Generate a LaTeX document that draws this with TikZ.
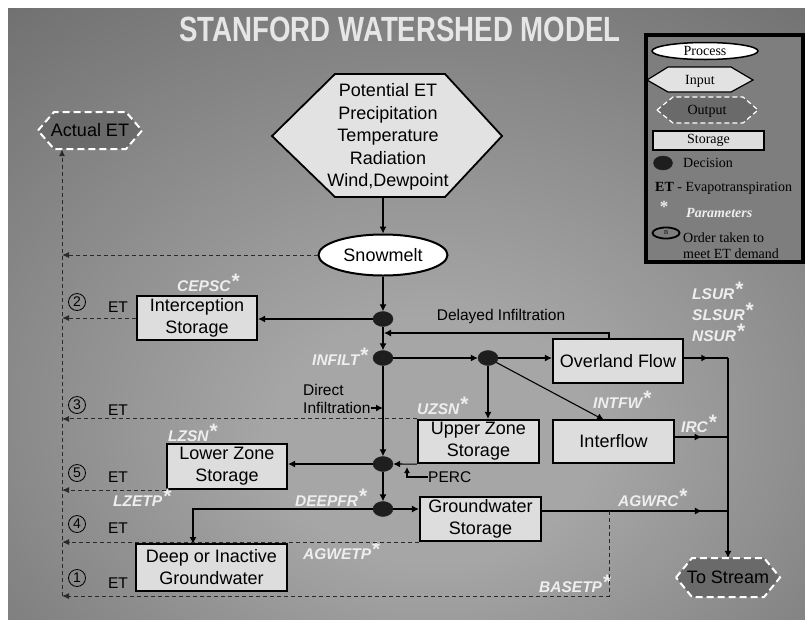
\documentclass[tikz,border=0pt]{standalone}
\usepackage{fontspec}
\setmainfont{Liberation Sans}
\newfontfamily\legfont{Liberation Serif}
\usetikzlibrary{arrows.meta,shapes.geometric,decorations.markings,calc}

\definecolor{bgdark}{RGB}{106,106,106}
\definecolor{bglight}{RGB}{166,166,166}
\definecolor{boxfill}{RGB}{221,221,221}
\definecolor{hexfill}{RGB}{226,226,226}
\definecolor{outfill}{RGB}{106,106,106}
\definecolor{decfill}{RGB}{30,30,30}
\definecolor{parcol}{RGB}{238,238,238}
\definecolor{dashcol}{RGB}{42,42,42}
\definecolor{titlecol}{RGB}{230,230,230}
\definecolor{legfill}{RGB}{126,126,126}

\pgfdeclareradialshading{bgshade}{\pgfpoint{2bp}{-12bp}}{color(0bp)=(bglight); color(10bp)=(bglight); color(44bp)=(bgdark); color(75bp)=(bgdark)}

% parameter name with its raised star
\newcommand{\prm}[1]{#1\hspace{1pt}\raisebox{3pt}{\fontsize{21}{21}\selectfont\upshape *}}

\tikzset{
  storebox/.style={draw=black, line width=2.2pt, fill=boxfill, inner sep=0pt, align=center,
    font=\fontsize{18}{22}\selectfont},
  decision/.style={ellipse, fill=decfill, draw=decfill, minimum width=20pt, minimum height=15pt, inner sep=0pt},
  flow/.style={draw=black, line width=1.1pt},
  arr/.style={flow, -{Latex[length=7pt,width=7pt]}},
  midarr/.style={flow, postaction={decorate}, decoration={markings,
    mark=at position #1 with {\arrow{Latex[length=7pt,width=7pt]}}}},
  etline/.style={draw=dashcol, line width=1pt, dash pattern=on 4pt off 3pt, -{Latex[length=7pt,width=6pt]}},
  param/.style={text=parcol, font=\fontsize{15.5}{17}\selectfont\bfseries\itshape, inner sep=0pt, anchor=base west},
  lbl/.style={font=\fontsize{15.5}{19}\selectfont, inner sep=0pt},
  circnum/.style={circle, draw=black, line width=0.8pt, minimum size=17pt, inner sep=0pt, font=\fontsize{14}{14}\selectfont},
  hexin/.style={fill=hexfill, draw=black, line width=1.8pt, line join=miter},
  hexout/.style={fill=outfill, draw=white, line width=2pt, dash pattern=on 7pt off 4pt},
  legtext/.style={font=\legfont\fontsize{14}{16}\selectfont, inner sep=0pt},
}

\begin{document}
\begin{tikzpicture}[x=1pt, y=-1pt]
\useasboundingbox (0,0) rectangle (805,619);
\fill[white] (0,0) rectangle (805,619);
\shade[shading=bgshade] (8,8) rectangle (805,619);

% title
\node[font=\fontsize{35}{35}\selectfont\bfseries, text=titlecol, inner sep=0pt] (title) at (400,29.5)
  {\scalebox{0.79}[1]{STANFORD WATERSHED MODEL}};

% ---------- legend ----------
\draw[line width=3.5pt, fill=legfill] (646,35) rectangle (803,262);
\node[ellipse, draw=black, line width=1.5pt, fill=white, minimum width=106pt, minimum height=17pt,
  inner sep=0pt, legtext] (lgproc) at (705,51) {Process};
\draw[hexin, line width=1.2pt] (647,80) -- (668,67) -- (731,67) -- (753,80) -- (731,92) -- (668,92) -- cycle;
\node[legtext] (lgin) at (700,81) {Input};
\draw[hexout, line width=1.2pt, dash pattern=on 5pt off 3pt] (657,110) -- (673,97) -- (743,97) -- (758,110) -- (743,123) -- (673,123) -- cycle;
\node[legtext] (lgout) at (707,111) {Output};
\node[draw=black, line width=2pt, fill=boxfill, minimum width=111pt, minimum height=19pt, inner sep=0pt,
  legtext] (lgstore) at (708.5,140.5) {Storage};
\node[decision, minimum width=19pt, minimum height=14pt] (lgdec) at (663,163) {};
\node[legtext, anchor=west] (lgdect) at (683,163) {Decision};
\node[legtext, anchor=west] (lget) at (655,188) {\textbf{ET} - Evapotranspiration};
\node[legtext, text=parcol, font=\legfont\fontsize{17}{17}\selectfont\bfseries] (lgstar) at (664,207) {*};
\node[legtext, anchor=west, text=parcol, font=\legfont\fontsize{14}{16}\selectfont\bfseries\itshape] (lgpar) at (686,213) {Parameters};
\node[ellipse, draw=black, line width=1.8pt, minimum width=27pt, minimum height=11pt, inner sep=0pt,
  font=\legfont\fontsize{8}{8}\selectfont] (lgord) at (666,233) {n};
\node[legtext, anchor=west, align=left] (lgordt) at (683,246) {Order taken to\\meet ET demand};

% ---------- input and process ----------
\draw[hexin] (272,136) -- (335,74) -- (445,74) -- (502,136) -- (445,197) -- (335,197) -- cycle;
\node[align=center, inner sep=0pt, font=\fontsize{18}{22.5}\selectfont] (inp) at (388,137)
  {Potential ET\\Precipitation\\Temperature\\Radiation\\Wind,Dewpoint};
\coordinate (inpbot) at (383,197);

\node[ellipse, draw=black, line width=2pt, fill=white, minimum width=129pt, minimum height=41pt,
  inner sep=0pt, font=\fontsize{18}{18}\selectfont] (snow) at (383,255) {Snowmelt};

% decisions
\node[decision] (d1) at (383,319) {};
\node[decision] (d2) at (383,358) {};
\node[decision] (d3) at (488,358) {};
\node[decision] (d4) at (383,464) {};
\node[decision] (d5) at (383,509) {};

% storages and flows
\node[storebox, minimum width=120pt, minimum height=44pt] (ics) at (197,318) {Interception\\Storage};
\node[storebox, minimum width=130pt, minimum height=44pt] (ovl) at (618,361) {Overland Flow};
\node[storebox, minimum width=121pt, minimum height=43pt] (itf) at (613.5,441.5) {Interflow};
\node[storebox, minimum width=121pt, minimum height=43pt] (uzs) at (478.5,441.5) {Upper Zone\\Storage};
\node[storebox, minimum width=120pt, minimum height=45pt] (lzs) at (227,466.5) {Lower Zone\\Storage};
\node[storebox, minimum width=121pt, minimum height=44pt] (gw) at (480.5,519) {Groundwater\\Storage};
\node[storebox, minimum width=151pt, minimum height=47pt] (deep) at (211.5,567.5) {Deep or Inactive\\Groundwater};

% outputs
\draw[hexout] (38,130.5) -- (54,112) -- (126,112) -- (142,130.5) -- (126,149) -- (54,149) -- cycle;
\node[inner sep=0pt, minimum height=37pt, font=\fontsize{18}{18}\selectfont] (aet) at (90,130.5) {Actual ET};
\draw[hexout] (676,577.5) -- (692,558) -- (764,558) -- (780,577.5) -- (764,597) -- (692,597) -- cycle;
\node[inner sep=0pt, minimum height=39pt, font=\fontsize{18}{18}\selectfont] (stream) at (728,577.5) {To Stream};

% ---------- text labels ----------
\node[lbl] (dly) at (501,316) {Delayed Infiltration};
\node[lbl, anchor=west] (dinf1) at (303,390) {Direct};
\node[lbl, anchor=west] (dinf) at (303,408) {Infiltration};
\node[lbl, anchor=west] (perc) at (428,477) {PERC};

\node[param] (pcepsc) at (177,291) {\prm{CEPSC}};
\node[param] (pinfilt) at (312,365) {\prm{INFILT}};
\node[param] (puzsn) at (417,414) {\prm{UZSN}};
\node[param] (plzsn) at (168,441) {\prm{LZSN}};
\node[param] (plzetp) at (113,506) {\prm{LZETP}};
\node[param] (pdeepfr) at (295,506) {\prm{DEEPFR}};
\node[param] (pagwetp) at (303,559) {\prm{AGWETP}};
\node[param] (plsur) at (692,299) {\prm{LSUR}};
\node[param] (pslsur) at (692,320) {\prm{SLSUR}};
\node[param] (pnsur) at (692,341) {\prm{NSUR}};
\node[param] (pintfw) at (593,408) {\prm{INTFW}};
\node[param] (pirc) at (681,432) {\prm{IRC}};
\node[param] (pagwrc) at (618,506) {\prm{AGWRC}};
\node[param] (pbasetp) at (539,592) {\prm{BASETP}};

% ET order marks
\node[circnum] (c2) at (77,302) {2};
\node[circnum] (c3) at (77,405) {3};
\node[circnum] (c5) at (77,473) {5};
\node[circnum] (c4) at (77,524) {4};
\node[circnum] (c1) at (77,578) {1};
\node[lbl] (et2) at (118,307) {ET};
\node[lbl] (et3) at (118,410) {ET};
\node[lbl] (et5) at (118,477) {ET};
\node[lbl] (et4) at (118,528) {ET};
\node[lbl] (et1) at (118,583) {ET};

% ---------- junction points ----------
\coordinate (dlyup) at (609,339);
\coordinate (dlyin) at (384,333);
\coordinate (itfin) at (604,420);
\coordinate (percup) at (407,467);
\coordinate (deepin) at (193,544);
\coordinate (jo) at (728,358);
\coordinate (ji) at (728,437);
\coordinate (jg) at (728,511);
\coordinate (gbase) at (609,511);
\coordinate (etbase) at (62,596);

% ---------- water flow ----------
\draw[arr] (inpbot) -- (snow.north);
\draw[arr] (snow.south) -- (d1.north);
\draw[arr] (d1.west) -- (d1.west -| ics.east);
\draw[arr] (d1.south) -- (d2.north);
\draw[arr] (dlyup) |- (dlyin);
\draw[arr] (d2.east) -- (d3.west);
\draw[arr] (d3.east) -- (d3.east -| ovl.west);
\draw[arr] (d3) -- (itfin);
\draw[arr] (d3.south) -- (d3.south |- uzs.north);
\draw[arr] (d2.south) -- (d4.north);
\draw[arr] (dinf.east) -- (dinf.east -| d2);
\draw[arr] (uzs.south west) -- (d4.east);
\draw[flow, -{Latex[length=6pt,width=6pt]}] (perc.west) -| (percup);
\draw[arr] (d4.west) -- (d4.west -| lzs.east);
\draw[arr] (d4.south) -- (d5.north);
\draw[arr] (d5.east) -- (d5.east -| gw.west);
\draw[arr] (d5.west) -| (deepin);
\draw[midarr=0.55] (jo -| ovl.east) -- (jo);
\draw[midarr=0.5] (ji -| itf.east) -- (ji);
\draw[midarr=0.86] (jg -| gw.east) -- (jg);
\draw[arr] (jo) -- (stream.north);

% ---------- evapotranspiration ----------
\draw[etline] (snow.west) -- (snow.west -| etbase);
\draw[etline] (ics.west) -- (ics.west -| etbase);
\draw[etline] (uzs.north west) -- (uzs.north west -| etbase);
\draw[etline] (lzs.south west) -- (lzs.south west -| etbase);
\draw[etline] (gw.south west) -- (gw.south west -| etbase);
\draw[etline] (gbase) |- (etbase);
\draw[etline] (etbase) -- (etbase |- aet.south);
\end{tikzpicture}
\end{document}
